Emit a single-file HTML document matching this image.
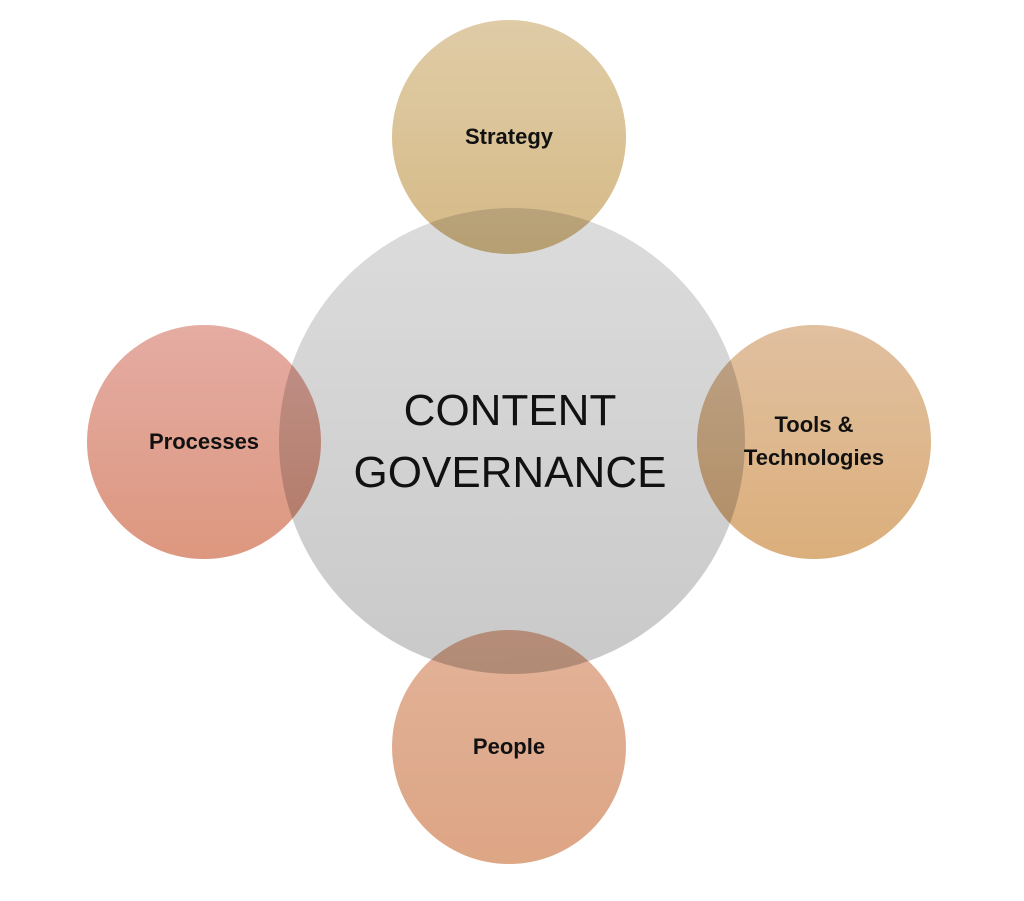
<!DOCTYPE html>
<html><head><style>
html,body{margin:0;padding:0;background:#fff;}
svg{display:block}
text{font-family:"Liberation Sans",sans-serif;}
.s{mix-blend-mode:multiply;}
</style></head><body>
<svg width="1024" height="901" viewBox="0 0 1024 901">
<defs>
<linearGradient id="g0" x1="0" y1="0" x2="0" y2="1"><stop offset="0" stop-color="#dcdcdc"/><stop offset="1" stop-color="#c9c9c9"/></linearGradient>
<linearGradient id="g1" x1="0" y1="0" x2="0" y2="1"><stop offset="0" stop-color="#ddc89f"/><stop offset="1" stop-color="#d2b47c"/></linearGradient>
<linearGradient id="g2" x1="0" y1="0" x2="0" y2="1"><stop offset="0" stop-color="#e3a59b"/><stop offset="1" stop-color="#da8e74"/></linearGradient>
<linearGradient id="g3" x1="0" y1="0" x2="0" y2="1"><stop offset="0" stop-color="#dfbb98"/><stop offset="1" stop-color="#d8a870"/></linearGradient>
<linearGradient id="g4" x1="0" y1="0" x2="0" y2="1"><stop offset="0" stop-color="#e1ab90"/><stop offset="1" stop-color="#da9e7a"/></linearGradient>
</defs>
<circle cx="512" cy="441" r="233" fill="url(#g0)"/>
<g style="isolation:auto">
<circle class="s" cx="509" cy="137" r="117" fill="url(#g1)" opacity="0.92"/>
<circle class="s" cx="204" cy="442" r="117" fill="url(#g2)" opacity="0.92"/>
<circle class="s" cx="814" cy="442" r="117" fill="url(#g3)" opacity="0.92"/>
<circle class="s" cx="509" cy="747" r="117" fill="url(#g4)" opacity="0.92"/>
</g>
<text x="510" y="425" font-size="44" text-anchor="middle" fill="#111">CONTENT</text>
<text x="510" y="487" font-size="44" text-anchor="middle" fill="#111">GOVERNANCE</text>
<text x="509" y="144" font-size="22" font-weight="bold" text-anchor="middle" fill="#111">Strategy</text>
<text x="204" y="449" font-size="22" font-weight="bold" text-anchor="middle" fill="#111">Processes</text>
<text x="814" y="432" font-size="22" font-weight="bold" text-anchor="middle" fill="#111">Tools &amp;</text>
<text x="814" y="465" font-size="22" font-weight="bold" text-anchor="middle" fill="#111">Technologies</text>
<text x="509" y="754" font-size="22" font-weight="bold" text-anchor="middle" fill="#111">People</text>
</svg>
</body></html>
